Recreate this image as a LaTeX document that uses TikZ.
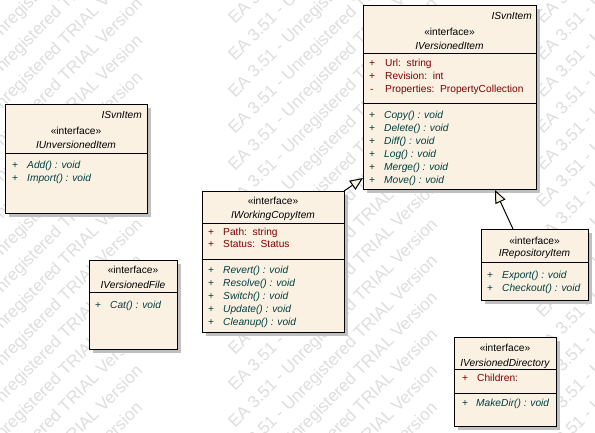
\documentclass[tikz,border=0pt]{standalone}
\usepackage{fontspec}
\setmainfont{Liberation Sans}
\usetikzlibrary{arrows.meta}
\definecolor{boxfill}{RGB}{250,241,227}
\definecolor{attrc}{RGB}{128,0,0}
\definecolor{opc}{RGB}{0,64,64}
\definecolor{shadowc}{RGB}{192,192,192}
\definecolor{wmc}{RGB}{222,222,222}
\tikzset{
  umlbox/.style={draw=black, line width=1pt, fill=boxfill, inner sep=0pt, outer sep=0pt, anchor=north west},
  shadowbox/.style={fill=shadowc},
  sepline/.style={draw=black, line width=1pt},
  txt/.style={font=\fontsize{10.2}{12}\selectfont, inner sep=0pt},
  tagtxt/.style={txt, font=\fontsize{10.2}{12}\selectfont\itshape, anchor=base east},
  stereo/.style={txt, anchor=base},
  nametxt/.style={txt, font=\fontsize{10.2}{12}\selectfont\itshape, anchor=base},
  attr/.style={txt, text=attrc, anchor=base west},
  optxt/.style={txt, font=\fontsize{10.2}{12}\selectfont\itshape, text=opc, anchor=base west},
  opsign/.style={txt, text=opc, anchor=base west},
  wm/.style={font=\fontsize{17}{20}\selectfont, text=wmc, inner sep=0pt, rotate=45, anchor=base west},
  gen/.style={draw=black, line width=1pt, -{Triangle[length=13pt, width=11pt, fill=boxfill]}}
}
\begin{document}
\begin{tikzpicture}[x=1pt,y=-1pt]
\useasboundingbox[fill=white] (0,0) rectangle (595,432);
% watermark
\begin{scope}
\clip (0,0) rectangle (595,432);
\foreach \cx [count=\ci] in {-60,235,543} {
  \foreach \k [count=\ki] in {-1,...,17} {
    \node[wm] (wm\ci-\ki) at (\cx, {25+36.7*\k}) {EA 3.51 - Unregistered TRIAL Version};
  }
}
\end{scope}

% ---------- IVersionedItem ----------
\fill[shadowbox] (366.5,8.5) rectangle (539.5,192.5);
\node[umlbox, minimum width=173pt, minimum height=184pt] (vi) at (363,5) {};
\draw[sepline] (363,53) -- (536,53);
\draw[sepline] (363,103) -- (536,103);
\node[tagtxt] (viTag) at (532,19) {ISvnItem};
\node[stereo] (viSt) at (449.5,35) {«interface»};
\node[nametxt] (viNm) at (449.5,49) {IVersionedItem};
\node[attr] (viA1s) at (369,66) {+};
\node[attr] (viA1) at (385,66) {Url:\ \ string};
\node[attr] (viA2s) at (369,79) {+};
\node[attr] (viA2) at (385,79) {Revision:\ \ int};
\node[attr] (viA3s) at (370,92) {-};
\node[attr] (viA3) at (385,92) {Properties:\ \ PropertyCollection};
\node[opsign] (viO1s) at (369,118) {+};
\node[optxt] (viO1) at (384,118) {Copy() : void};
\node[opsign] (viO2s) at (369,131) {+};
\node[optxt] (viO2) at (384,131) {Delete() : void};
\node[opsign] (viO3s) at (369,144) {+};
\node[optxt] (viO3) at (384,144) {Diff() : void};
\node[opsign] (viO4s) at (369,157) {+};
\node[optxt] (viO4) at (384,157) {Log() : void};
\node[opsign] (viO5s) at (369,170) {+};
\node[optxt] (viO5) at (384,170) {Merge() : void};
\node[opsign] (viO6s) at (369,183) {+};
\node[optxt] (viO6) at (384,183) {Move() : void};

% ---------- IUnversionedItem ----------
\fill[shadowbox] (8.5,107.5) rectangle (150.5,216.5);
\node[umlbox, minimum width=142pt, minimum height=109pt] (ui) at (5,104) {};
\draw[sepline] (5,153) -- (147,153);
\node[tagtxt] (uiTag) at (142,118) {ISvnItem};
\node[stereo] (uiSt) at (76,134) {«interface»};
\node[nametxt] (uiNm) at (76,148) {IUnversionedItem};
\node[opsign] (uiO1s) at (12,168) {+};
\node[optxt] (uiO1) at (27,168) {Add() : void};
\node[opsign] (uiO2s) at (12,181) {+};
\node[optxt] (uiO2) at (27,181) {Import() : void};

% ---------- IWorkingCopyItem ----------
\fill[shadowbox] (205.5,194.5) rectangle (347.5,335.5);
\node[umlbox, minimum width=142pt, minimum height=141pt] (wc) at (202,191) {};
\draw[sepline] (202,223) -- (344,223);
\draw[sepline] (202,259) -- (344,259);
\node[stereo] (wcSt) at (273,204) {«interface»};
\node[nametxt] (wcNm) at (273,218) {IWorkingCopyItem};
\node[attr] (wcA1s) at (208,235) {+};
\node[attr] (wcA1) at (223,235) {Path:\ \ string};
\node[attr] (wcA2s) at (208,247) {+};
\node[attr] (wcA2) at (223,247) {Status:\ \ Status};
\node[opsign] (wcO1s) at (208,273) {+};
\node[optxt] (wcO1) at (223,273) {Revert() : void};
\node[opsign] (wcO2s) at (208,286) {+};
\node[optxt] (wcO2) at (223,286) {Resolve() : void};
\node[opsign] (wcO3s) at (208,299) {+};
\node[optxt] (wcO3) at (223,299) {Switch() : void};
\node[opsign] (wcO4s) at (208,312) {+};
\node[optxt] (wcO4) at (223,312) {Update() : void};
\node[opsign] (wcO5s) at (208,325) {+};
\node[optxt] (wcO5) at (223,325) {Cleanup() : void};

% ---------- IVersionedFile ----------
\fill[shadowbox] (92.5,263.5) rectangle (180.5,352.5);
\node[umlbox, minimum width=88pt, minimum height=89pt] (vf) at (89,260) {};
\draw[sepline] (89,292) -- (177,292);
\node[stereo] (vfSt) at (133,273) {«interface»};
\node[nametxt] (vfNm) at (133,288) {IVersionedFile};
\node[opsign] (vfO1s) at (95,308) {+};
\node[optxt] (vfO1) at (110,308) {Cat() : void};

% ---------- IRepositoryItem ----------
\fill[shadowbox] (484.5,232.5) rectangle (591.5,303.5);
\node[umlbox, minimum width=107pt, minimum height=71pt] (ri) at (481,229) {};
\draw[sepline] (481,262) -- (588,262);
\node[stereo] (riSt) at (534.5,244) {«interface»};
\node[nametxt] (riNm) at (534.5,256) {IRepositoryItem};
\node[opsign] (riO1s) at (487,278) {+};
\node[optxt] (riO1) at (502,278) {Export() : void};
\node[opsign] (riO2s) at (487,291) {+};
\node[optxt] (riO2) at (502,291) {Checkout() : void};

% ---------- IVersionedDirectory ----------
\fill[shadowbox] (457.5,340.5) rectangle (559.5,429.5);
\node[umlbox, minimum width=102pt, minimum height=89pt] (vd) at (454,337) {};
\draw[sepline] (454,369) -- (556,369);
\draw[sepline] (454,393) -- (556,393);
\node[stereo] (vdSt) at (505,351) {«interface»};
\node[nametxt] (vdNm) at (505,366) {IVersionedDirectory};
\node[attr] (vdA1s) at (462,381) {+};
\node[attr] (vdA1) at (477,381) {Children:};
\node[opsign] (vdO1s) at (462,406) {+};
\node[optxt] (vdO1) at (476,406) {MakeDir() : void};

% ---------- generalizations ----------
\coordinate (wcEnd) at ([yshift=11pt]vi.south west);
\draw[gen] (wc.north east) -- (wcEnd);
\coordinate (riStart) at ([xshift=-21.5pt]ri.north);
\coordinate (riEnd) at ([xshift=45.5pt, yshift=-1pt]vi.south);
\draw[gen] (riStart) -- (riEnd);
\end{tikzpicture}
\end{document}
